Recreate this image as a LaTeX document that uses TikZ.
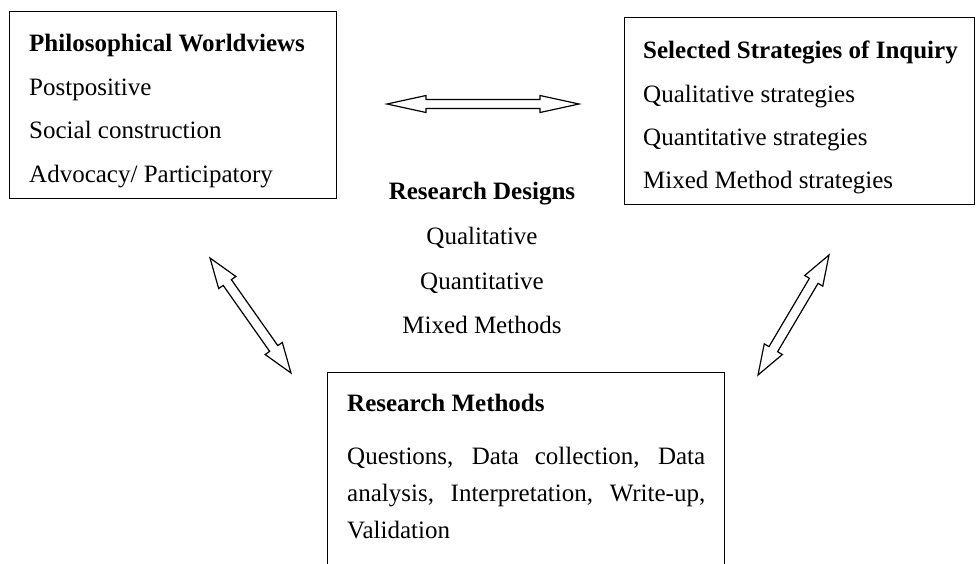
\documentclass[tikz,border=0pt]{standalone}
\usepackage{fontspec}
\setmainfont{Liberation Serif}
\usetikzlibrary{calc}

\newcommand{\hollowarrow}[5]{%
	\draw[line width=1.2] (#1)
		-- ($($(#1)!#3!(#2)$)!#4!90:(#2)$)
		-- ($($(#1)!#3!(#2)$)!#5!90:(#2)$)
		-- ($($(#2)!#3!(#1)$)!#5!-90:(#1)$)
		-- ($($(#2)!#3!(#1)$)!#4!-90:(#1)$)
		-- (#2)
		-- ($($(#2)!#3!(#1)$)!#4!90:(#1)$)
		-- ($($(#2)!#3!(#1)$)!#5!90:(#1)$)
		-- ($($(#1)!#3!(#2)$)!#5!-90:(#2)$)
		-- ($($(#1)!#3!(#2)$)!#4!-90:(#2)$)
		-- cycle;}

\begin{document}
\begin{tikzpicture}[x=1pt, y=-1pt,
	every node/.style={inner sep=0, font=\fontsize{25}{30}\selectfont},
	box/.style={draw, line width=1.2, anchor=north west}]
	\useasboundingbox (0,0) rectangle (976,563);

	\node[box, minimum width=327, minimum height=187] (worldviews) at (9,11) {};
	\node[box, minimum width=350, minimum height=187] (strategies) at (624,17) {};
	\node[box, minimum width=397, minimum height=210] (methods) at (327,372) {};

	\node[anchor=base west] (wvtitle) at (29,51) {\textbf{Philosophical Worldviews}};
	\node[anchor=base west] (wv1) at (29,95) {Postpositive};
	\node[anchor=base west] (wv2) at (29,138) {Social construction};
	\node[anchor=base west] (wv3) at (29,182) {Advocacy/ Participatory};

	\node[anchor=base west] (sititle) at (643,58) {\textbf{Selected Strategies of Inquiry}};
	\node[anchor=base west] (si1) at (643,102) {Qualitative strategies};
	\node[anchor=base west] (si2) at (643,145) {Quantitative strategies};
	\node[anchor=base west] (si3) at (643,188) {Mixed Method strategies};

	\node[anchor=base] (rdtitle) at (482,199) {\textbf{Research Designs}};
	\node[anchor=base] (rd1) at (482,244) {Qualitative};
	\node[anchor=base] (rd2) at (482,289) {Quantitative};
	\node[anchor=base] (rd3) at (482,333) {Mixed Methods};

	\node[anchor=base west] (rmtitle) at (347,411) {\textbf{Research Methods}};
	\node[anchor=north west, text width=358, align=justify,
		font=\fontsize{25}{37}\selectfont] (rmtext) at (347,447)
		{\hyphenpenalty=10000 Questions, Data collection, Data analysis, Interpretation, Write-up, Validation};

	\coordinate (top1) at (387,104);
	\coordinate (top2) at (579,104);
	\coordinate (left1) at (210,258);
	\coordinate (left2) at (291,373);
	\coordinate (right1) at (829,255);
	\coordinate (right2) at (758,375);

	\hollowarrow{top1}{top2}{39pt}{8.5pt}{4.5pt}
	\hollowarrow{left1}{left2}{30pt}{10.5pt}{5pt}
	\hollowarrow{right1}{right2}{30pt}{10.5pt}{5pt}
\end{tikzpicture}
\end{document}
